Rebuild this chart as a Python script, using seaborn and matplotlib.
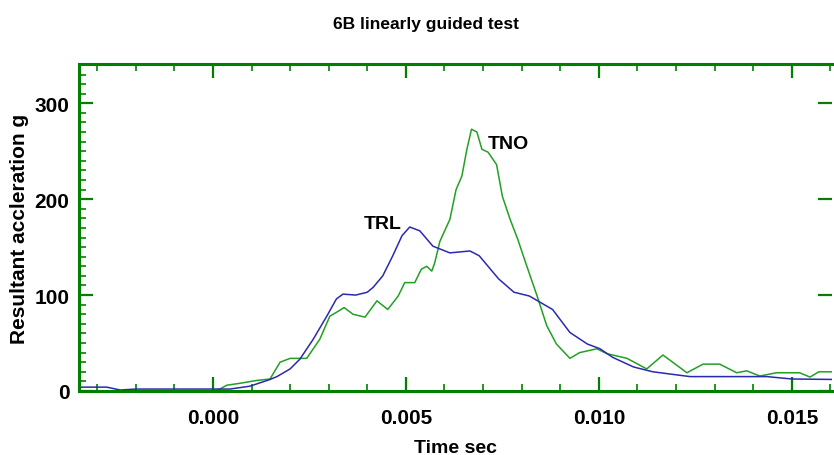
import numpy as np
import matplotlib
matplotlib.use("Agg")
import matplotlib.pyplot as plt
from matplotlib.ticker import MultipleLocator
import pandas as pd
import seaborn as sns

# TRL curve (blue)
trl_t = [-0.0035, -0.00275, -0.0024, -0.002, 0.0, 0.00044, 0.00096, 0.00148, 0.00166, 0.002,
         0.00225, 0.0026, 0.00295, 0.0032, 0.00337, 0.0037, 0.004, 0.00415, 0.0044, 0.00466,
         0.0049, 0.0051, 0.00536, 0.0057, 0.00614, 0.00666, 0.0069, 0.0074, 0.0078, 0.0082,
         0.0088, 0.00925, 0.0097, 0.01003, 0.01036, 0.0109, 0.0114, 0.01236, 0.01435, 0.0150, 0.0161]
trl_g = [4, 4, 1, 2, 2, 2, 5, 12, 15, 23,
         33, 54, 78, 96, 101, 100, 103, 108, 120, 141,
         162, 171, 167, 151, 144, 146, 141, 117, 103, 99,
         85, 61, 49, 44, 35, 25, 20, 15, 15, 12.5, 12]

# TNO curve (green)
tno_t = [-0.0035, 0.0, 0.00018, 0.00036, 0.0007, 0.00114, 0.00148, 0.00174, 0.002, 0.00243,
         0.00277, 0.00303, 0.0032, 0.0034, 0.00363, 0.00394, 0.00425, 0.00453, 0.0048, 0.00497,
         0.00523, 0.0054, 0.00554, 0.00567, 0.00575, 0.00588, 0.00614, 0.0063, 0.00645, 0.00658,
         0.0067, 0.00684, 0.00697, 0.00713, 0.00735, 0.0075, 0.0077, 0.0079, 0.0081, 0.0084,
         0.00865, 0.0089, 0.00925, 0.0095, 0.00995, 0.0102, 0.01073, 0.01124, 0.01166, 0.01228,
         0.0127, 0.01313, 0.01357, 0.01383, 0.01417, 0.0146, 0.0152, 0.01547, 0.0157, 0.0161]
tno_g = [0, 0, 2, 6, 8, 11, 12.5, 30, 34, 34,
         54, 78, 82, 87, 80, 77, 94, 85, 99, 113,
         113, 127, 130, 125, 134, 156, 179, 210, 224, 252,
         273, 270, 252, 249, 236, 203, 179, 158, 134, 99,
         68, 49, 34, 40, 44, 39, 34, 23, 37.5, 19,
         28, 28, 19, 21, 15.6, 19, 19, 14.5, 20, 20]

x_ticks = [0.0, 0.005, 0.010, 0.015]
x_labels = ["0.000", "0.005", "0.010", "0.015"]
y_ticks = [0, 100, 200, 300]
y_labels = ["0", "100", "200", "300"]

sns.set_style("white")
plt.rcParams['font.family'] = ['Liberation Sans Narrow', 'Liberation Sans', 'DejaVu Sans']
plt.rcParams['font.weight'] = 'bold'
plt.rcParams['text.color'] = 'black'
plt.rcParams['axes.labelcolor'] = 'black'

frame_green = "#008000"
fig = plt.figure(figsize=(8.34, 4.56), dpi=100)
ax = fig.add_axes([0.0947, 0.1404, 0.9029, 0.7171])

df_tno = pd.DataFrame({"t": tno_t, "g": tno_g})
df_trl = pd.DataFrame({"t": trl_t, "g": trl_g})
sns.lineplot(data=df_tno, x="t", y="g", ax=ax, color="#22a022", linewidth=1.1,
             estimator=None, sort=False)
sns.lineplot(data=df_trl, x="t", y="g", ax=ax, color="#2a2ab0", linewidth=1.1,
             estimator=None, sort=False)

ax.text(0.004404, 175, "TRL", ha="center", va="center", fontsize=14, fontweight="bold")
ax.text(0.007668, 258, "TNO", ha="center", va="center", fontsize=14, fontweight="bold")

ax.set_xlim(-0.00347, 0.01604)
ax.set_ylim(0, 341)
ax.set_xticks(x_ticks, x_labels)
ax.set_yticks(y_ticks, y_labels)
ax.xaxis.set_minor_locator(MultipleLocator(0.001))
ax.yaxis.set_minor_locator(MultipleLocator(10))

ax.tick_params(which="both", direction="in", bottom=True, left=True, top=True,
               colors=frame_green, labelcolor="black", labelsize=15)
ax.tick_params(which="major", right=True, length=10, width=1.6)
ax.tick_params(which="minor", right=False, length=5, width=1.2)
ax.tick_params(axis="x", which="major", pad=12)
ax.tick_params(axis="y", which="major", pad=7)
for side, sp in ax.spines.items():
    sp.set_color(frame_green)
    sp.set_linewidth(2.2)
ax.spines["right"].set_visible(False)

ax.set_xlabel("Time sec", fontsize=14, fontweight="bold", labelpad=9)
ax.set_ylabel("Resultant accleration g", fontsize=15, fontweight="bold")
ax.yaxis.set_label_coords(-0.066, 0.5)

fig.text(0.511, 1 - 25 / 456, "6B linearly guided test", ha="center", va="center",
         fontsize=12.5, fontweight="bold")

fig.savefig("out.png", dpi=100)
